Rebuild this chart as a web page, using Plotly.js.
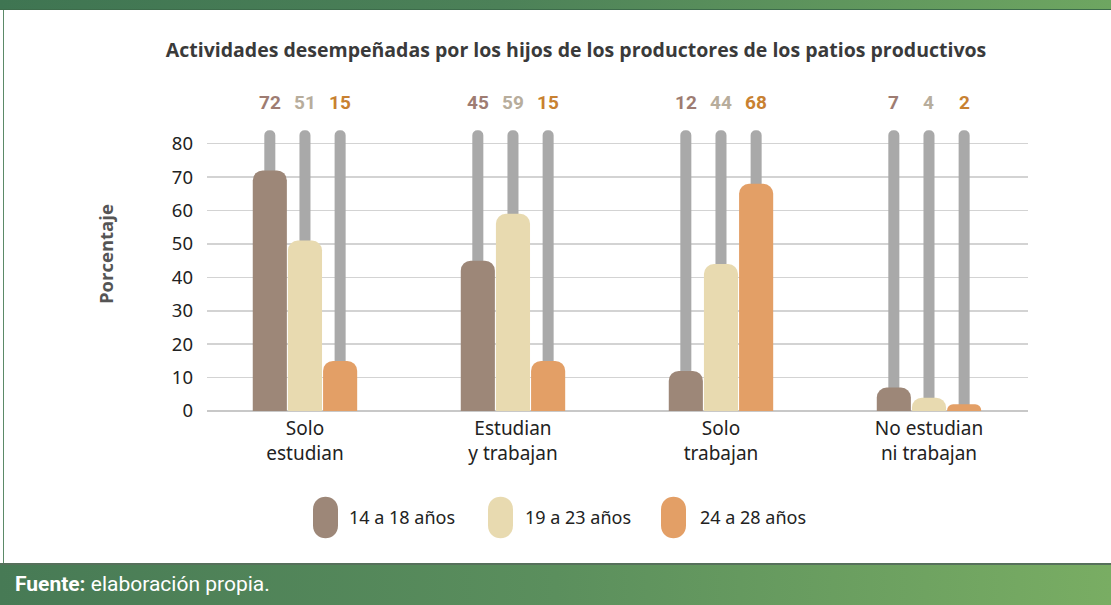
<!DOCTYPE html>
<html>
<head>
<meta charset="utf-8">
<script src="https://cdn.plot.ly/plotly-3.0.1.min.js"></script>
<style>
  html, body { margin:0; padding:0; background:#fff; }
  #wrap { position:relative; width:1111px; height:605px; overflow:hidden; background:#fff; }
  #topbar { position:absolute; left:0; top:0; width:1111px; height:9px;
    background:linear-gradient(90deg,#3f7552 0%,#4c8158 45%,#6ea661 100%);
    border-bottom:1px solid #3d6c4b; }
  #leftline { position:absolute; left:3px; top:10px; width:1px; height:553px; background:#5b8a68; }
  #footer { position:absolute; left:0; top:563px; width:1111px; height:42px;
    background:linear-gradient(90deg,#477a55 0%,#5b8f5d 50%,#79ad63 100%);
    border-top:2px solid #56705b; box-sizing:border-box; }
  #chart { position:absolute; left:0; top:0; width:1111px; height:605px; }
</style>
</head>
<body>
<div id="wrap">
  <div id="topbar"></div>
  <div id="leftline"></div>
  <div id="footer"></div>
  <div id="chart"></div>
</div>
<script>
// ---- data ----
const categories = ["Solo<br>estudian", "Estudian<br>y trabajan", "Solo<br>trabajan", "No estudian<br>ni trabajan"];
const seriesNames = ["14 a 18 años", "19 a 23 años", "24 a 28 años"];
const age14to18 = [72, 45, 12, 7];
const age19to23 = [51, 59, 44, 4];
const age24to28 = [15, 15, 68, 2];
const trackHeight = [84, 84, 84, 84];
const yTicks = [0, 10, 20, 30, 40, 50, 60, 70, 80];

// ---- styles ----
const barColors = ["#9d8778", "#e8dab0", "#e39f66"];
const labelColors = ["#9e7c72", "#b7ad9c", "#c88131"];
const trackColor = "#a9a9a9";
const series = [age14to18, age19to23, age24to28];
const step = 0.169, barW = 0.164, trackW = 0.053;
const offsets = [-step, 0, step];
const idx = categories.map((c, i) => i);
const xRange = [-0.471, 3.476];

const L = 207, W = 821, B = 411, H = 284;
const px = (p) => (p - L) / W;
const py = (p) => (B - p) / H;

const traces = [];
// background tracks (base x axis, drawn first)
series.forEach((s, k) => {
  traces.push({
    type: "bar", x: idx, y: trackHeight, xaxis: "x", yaxis: "y",
    offset: offsets[k] - trackW / 2, width: trackW,
    marker: { color: trackColor, cornerradius: "50%" },
    hoverinfo: "skip", showlegend: false
  });
});
// data bars (overlaying x axis, drawn above)
series.forEach((s, k) => {
  traces.push({
    type: "bar", x: idx, y: s, name: seriesNames[k], xaxis: "x2", yaxis: "y",
    offset: offsets[k] - barW / 2, width: barW,
    marker: { color: barColors[k], cornerradius: 10 },
    showlegend: false
  });
});

const annotations = [];
series.forEach((s, k) => {
  s.forEach((v, i) => {
    annotations.push({
      xref: "x", yref: "paper", x: i + offsets[k], y: py(103),
      text: "<b>" + v + "</b>", showarrow: false,
      font: { family: "Roboto", size: 19, color: labelColors[k] },
      xanchor: "center", yanchor: "middle"
    });
  });
});

// manual legend
const legendX = [325.5, 500.5, 673.5];
const legendTextX = [347, 523, 698];
const shapes = [];
seriesNames.forEach((n, k) => {
  shapes.push({
    type: "path", xref: "paper", yref: "paper",
    xsizemode: "pixel", ysizemode: "pixel",
    xanchor: px(legendX[k]), yanchor: py(517.5),
    path: "M -12.5,-8 L -12.5,8 C -12.5,25 12.5,25 12.5,8 L 12.5,-8 C 12.5,-25 -12.5,-25 -12.5,-8 Z",
    fillcolor: barColors[k], line: { width: 0 }, layer: "above"
  });
  annotations.push({
    xref: "paper", yref: "paper", x: px(legendTextX[k]), y: py(517),
    text: n, showarrow: false, xanchor: "left", yanchor: "middle",
    font: { family: "Noto Sans", size: 18, color: "#222" }
  });
});

// y-axis title (placed like the reference, off-centre)
annotations.push({
  xref: "paper", yref: "paper", x: px(105), y: py(254),
  text: "<b>Porcentaje</b>", showarrow: false, textangle: -90,
  xanchor: "center", yanchor: "middle",
  font: { family: "Open Sans", size: 18.5, color: "#555" }
});

annotations.push({
  xref: "paper", yref: "paper", x: px(13), y: py(584),
  text: "<b>Fuente:</b> elaboración propia.", showarrow: false,
  xanchor: "left", yanchor: "middle",
  font: { family: "Roboto", size: 21, color: "#ffffff" }
});

const layout = {
  width: 1111, height: 605,
  margin: { l: L, r: 1111 - L - W, t: 605 - 194 - H, b: 194 },
  paper_bgcolor: "rgba(0,0,0,0)", plot_bgcolor: "rgba(0,0,0,0)",
  title: {
    text: "<b>Actividades desempeñadas por los hijos de los productores de los patios productivos</b>",
    font: { family: "Open Sans", size: 19.5, color: "#3a3a3a" },
    x: 576 / 1111, xanchor: "center", y: 1 - 50 / 605, yanchor: "middle"
  },
  barmode: "overlay",
  showlegend: false,
  xaxis: {
    type: "linear", range: xRange,
    tickvals: idx, ticktext: categories,
    showgrid: false, zeroline: false, showline: false, ticks: "",
    tickfont: { family: "Noto Sans", size: 19, color: "#222" },
    ticklabelstandoff: 4, fixedrange: true
  },
  xaxis2: {
    type: "linear", range: xRange, overlaying: "x",
    showgrid: false, zeroline: false, showline: false, ticks: "",
    showticklabels: false, fixedrange: true
  },
  yaxis: {
    range: [0, 85], tickvals: yTicks, ticktext: yTicks.map(String),
    showgrid: true, gridcolor: "#d3d3d3", gridwidth: 1.5,
    zeroline: true, zerolinecolor: "#c8c8c8", zerolinewidth: 1.5,
    showline: false, ticks: "",
    tickfont: { family: "Noto Sans", size: 18.5, color: "#222" },
    ticklabelstandoff: 13,
    fixedrange: true
  },
  annotations: annotations,
  shapes: shapes
};

Plotly.newPlot("chart", traces, layout, { displayModeBar: false, staticPlot: true });
</script>
</body>
</html>
